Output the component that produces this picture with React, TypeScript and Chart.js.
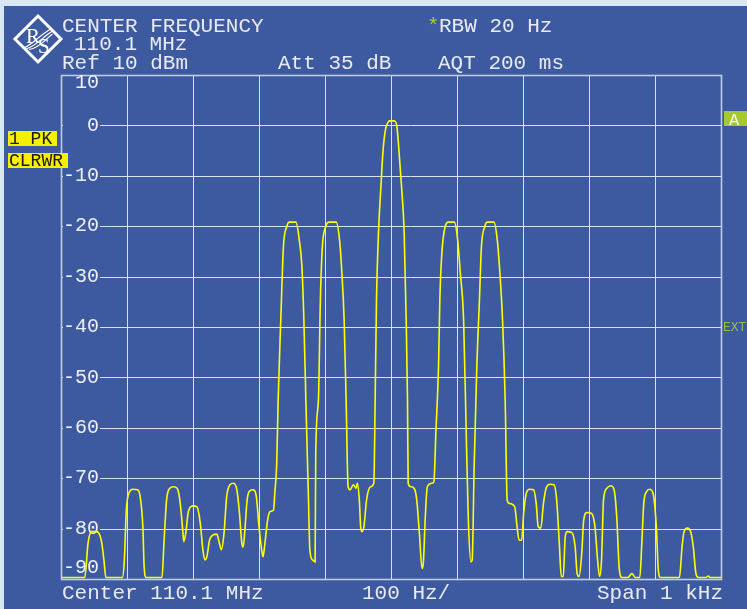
import React, { useEffect, useRef } from "react";
import { Chart, registerables } from "chart.js";

Chart.register(...registerables);

// Frequency offset from the 110.1 MHz centre (Hz) and trace level (dBm)
const freqOffsetHz = [
  -500, -464, -459, -454, -446, -439, -435, -432, -407, -404, -401, -397, -391, -384, -380, -376, -374, -371,
  -347, -344, -340, -335, -330, -324, -320, -316, -314, -311, -307, -300, -294, -289, -285, -282, -279, -275,
  -270, -264, -260, -257, -253, -249, -244, -239, -234, -230, -226, -224, -221, -218, -214, -209, -204, -200,
  -196, -194, -191, -187, -183, -178, -176, -173, -171, -167, -163, -158, -154, -144, -139, -135, -132, -129,
  -125, -123, -119, -115, -114, -110, -107, -104, -99, -94, -83, -78, -75, -71, -68, -65, -62, -57, -53, -51,
  -48, -46, -44, -41, -37, -31, -26, -24, -22, -19, -15, -12, -8, -4, -2, 5, 9, 12, 16, 20, 23, 25, 26, 30,
  35, 39, 43, 47, 49, 52, 55, 62, 65, 68, 72, 74, 77, 82, 87, 96, 101, 105, 110, 114, 117, 121, 123, 126, 130,
  134, 137, 142, 146, 156, 161, 165, 169, 173, 176, 179, 185, 188, 191, 194, 198, 201, 205, 210, 216, 220, 223,
  227, 231, 235, 241, 247, 251, 255, 258, 261, 264, 267, 274, 279, 282, 285, 289, 292, 297, 304, 309, 313, 316,
  319, 322, 327, 333, 338, 342, 346, 350, 359, 365, 370, 377, 380, 383, 387, 392, 397, 402, 405, 408, 437, 441,
  444, 449, 454, 458, 462, 466, 477, 481, 483, 500,
];

const levelDbm = [
  -89.7, -89.7, -82.9, -80.6, -80.6, -82.3, -86.2, -89.7, -89.7, -86.2, -76.3, -72.9, -72.2, -72.3, -73.7, -79.6, -87.6, -89.7,
  -89.7, -82.9, -74.3, -72.0, -71.7, -72.0, -74.3, -79.6, -82.6, -80.9, -76.6, -75.5, -75.7, -78.9, -84.2, -86.2, -85.6, -82.3,
  -81.3, -81.1, -82.9, -84.2, -80.9, -73.7, -71.3, -71.0, -72.0, -76.3, -82.9, -83.7, -79.6, -74.3, -72.5, -72.3, -73.7, -79.6,
  -84.2, -85.6, -82.9, -78.3, -76.6, -76.3, -72.9, -66.4, -54.5, -38.6, -24.1, -20.1, -19.2, -19.2, -22.7, -28.0, -38.6, -54.5,
  -74.3, -84.2, -86.2, -86.6, -65.0, -54.5, -34.6, -24.1, -20.1, -19.2, -19.2, -22.7, -28.0, -38.6, -54.5, -71.7, -72.3, -71.3, -72.0, -71.0,
  -74.3, -79.6, -80.6, -79.6, -74.3, -71.7, -71.0, -54.5, -34.6, -21.4, -11.5, -4.9, -0.6, 0.7, 0.9, 0.9, -0.3, -4.9, -12.2, -21.4, -38.6, -54.5, -71.0, -71.7,
  -72.0, -74.3, -80.9, -87.9, -86.8, -77.6, -71.7, -71.0, -70.7, -61.0, -47.9, -34.6, -25.4, -20.1, -19.2, -19.2, -22.7, -29.3, -38.6, -61.0, -77.6, -86.6, -86.2, -67.7, -47.9,
  -34.6, -24.1, -20.1, -19.2, -19.2, -22.7, -29.3, -38.6, -54.5, -74.3, -75.0, -75.3, -76.0, -79.6, -82.3, -82.3, -77.0, -73.0, -72.2, -72.3, -75.0, -79.6,
  -79.9, -75.0, -72.0, -71.2, -71.3, -74.3, -82.9, -89.5, -89.5, -81.6, -80.6, -80.8, -83.6, -88.9, -89.5, -84.9, -78.3, -76.8, -77.0, -79.6, -86.2, -89.5,
  -86.2, -74.3, -72.0, -71.5, -72.3, -77.6, -88.2, -89.7, -89.7, -88.9, -89.7, -89.7, -82.9, -75.0, -72.7, -72.2, -73.0, -79.6, -88.2, -89.7, -89.7, -83.6,
  -80.6, -79.9, -80.6, -83.6, -88.9, -89.7, -89.7, -89.4, -89.7, -89.7,
];

const yTickValues = [10, 0, -10, -20, -30, -40, -50, -60, -70, -80, -90];
const xDivisionValues = [-400, -300, -200, -100, 0, 100, 200, 300, 400];

const headerLine1 = "CENTER FREQUENCY";
const headerLine2 = "110.1 MHz";
const rbwText = "RBW 20 Hz";
const refText = "Ref 10 dBm";
const attText = "Att 35 dB";
const aqtText = "AQT 200 ms";
const footerLeft = "Center 110.1 MHz";
const footerMid = "100 Hz/";
const footerRight = "Span 1 kHz";

const PANEL = "rgb(61,90,160)";
const MONO = "'Liberation Mono', 'DejaVu Sans Mono', monospace";

const frame = {
  id: "spectrumFrame",
  beforeDraw(chart: any) {
    const ctx = chart.ctx as CanvasRenderingContext2D;
    const { left, right, top, bottom } = chart.chartArea;
    const xs = chart.scales.x;
    const ys = chart.scales.y;
    ctx.save();
    ctx.fillStyle = "#d8e7f6";
    ctx.fillRect(0, 0, chart.width, chart.height);
    ctx.fillStyle = PANEL;
    ctx.fillRect(4, 6, chart.width - 4, chart.height - 6);

    // vertical divisions
    ctx.strokeStyle = "rgba(228,232,248,0.95)";
    ctx.lineWidth = 1;
    for (const v of xDivisionValues) {
      const x = Math.round(xs.getPixelForValue(v)) + 0.5;
      ctx.beginPath();
      ctx.moveTo(x, top);
      ctx.lineTo(x, bottom);
      ctx.stroke();
    }
    // horizontal divisions (interrupted by the level labels)
    for (const v of yTickValues) {
      if (v === 10 || v === -90) continue;
      const y = Math.round(ys.getPixelForValue(v)) + 0.5;
      ctx.beginPath();
      ctx.moveTo(left + 39, y);
      ctx.lineTo(right, y);
      ctx.stroke();
      ctx.beginPath();
      ctx.moveTo(left, y);
      ctx.lineTo(left + 2, y);
      ctx.stroke();
    }
    // frame
    ctx.strokeStyle = "#c2cae8";
    ctx.lineWidth = 1.6;
    ctx.strokeRect(left + 0.5, top + 0.5, right - left, bottom - top);

    // level labels
    ctx.fillStyle = "#eef0f8";
    ctx.font = `20px ${MONO}`;
    ctx.textAlign = "right";
    ctx.textBaseline = "middle";
    for (const v of yTickValues) {
      let y = ys.getPixelForValue(v);
      if (v === 10) y += 8;
      if (v === -90) y -= 11;
      ctx.fillText(String(v), left + 38, y);
    }
    ctx.restore();
  },
  afterDraw(chart: any) {
    const ctx = chart.ctx as CanvasRenderingContext2D;
    ctx.save();
    ctx.textAlign = "left";
    ctx.textBaseline = "alphabetic";
    ctx.fillStyle = "#e8eaf4";
    ctx.font = `21px ${MONO}`;
    ctx.fillText(headerLine1, 62, 32);
    ctx.fillText(headerLine2, 74, 50);
    ctx.fillText(refText, 62, 69);
    ctx.fillText(attText, 278, 69);
    ctx.fillText(aqtText, 438, 69);
    ctx.fillText(rbwText, 439, 32);
    ctx.fillText(footerLeft, 62, 599);
    ctx.fillText(footerMid, 362, 599);
    ctx.fillText(footerRight, 597, 599);
    ctx.fillStyle = "#a8cc3c";
    ctx.fillText("*", 427, 32);

    // trace labels
    ctx.fillStyle = "#f4f000";
    ctx.fillRect(8, 131, 49, 15);
    ctx.fillRect(8, 153, 60, 15);
    ctx.fillStyle = "#1a1a1a";
    ctx.font = `18px ${MONO}`;
    ctx.fillText("1 PK", 9, 144);
    ctx.fillText("CLRWR", 9, 166);

    // A marker and EXT
    ctx.fillStyle = "#a6c832";
    ctx.fillRect(724, 111, 23, 15);
    ctx.fillStyle = "#f4f4f4";
    ctx.font = `17px ${MONO}`;
    ctx.fillText("A", 729, 125);
    ctx.fillStyle = "#9ab84a";
    ctx.font = `13px ${MONO}`;
    ctx.fillText("EXT", 723, 331);

    // R&S logo
    ctx.translate(38, 39);
    ctx.strokeStyle = "#ffffff";
    ctx.lineWidth = 3;
    ctx.beginPath();
    ctx.moveTo(0, -23);
    ctx.lineTo(23, 0);
    ctx.lineTo(0, 23);
    ctx.lineTo(-23, 0);
    ctx.closePath();
    ctx.stroke();
    ctx.fillStyle = "#ffffff";
    ctx.font = "21px 'Liberation Serif', serif";
    ctx.fillText("R", -12, 4);
    ctx.fillText("S", 0, 14);
    ctx.lineWidth = 1.2;
    for (let k = 0; k < 3; k++) {
      const o = k * 2.5;
      ctx.beginPath();
      ctx.moveTo(-14 + o, 9 + o * 0.3);
      ctx.bezierCurveTo(-5 + o, 5 + o, 3 + o, -5 + o, 13 + o * 0.3, -10 + o);
      ctx.stroke();
    }
    ctx.restore();
  },
};

export default function App() {
  const ref = useRef<HTMLCanvasElement>(null);
  useEffect(() => {
    document.body.style.margin = "0";
    const canvas = ref.current!;
    const chart = new Chart(canvas, {
      type: "line",
      data: {
        datasets: [
          {
            data: freqOffsetHz.map((f, i) => ({ x: f, y: levelDbm[i] })),
            borderColor: "#ffff00",
            borderWidth: 1.6,
            pointRadius: 0,
            cubicInterpolationMode: "monotone",
            fill: false,
          },
        ],
      },
      options: {
        animation: false,
        responsive: false,
        events: [],
        layout: { padding: { left: 61, top: 75, right: 26, bottom: 30 } },
        plugins: { legend: { display: false }, tooltip: { enabled: false } },
        scales: {
          x: { type: "linear", display: false, min: -500, max: 500 },
          y: { type: "linear", display: false, min: -90, max: 10 },
        },
      },
      plugins: [frame],
    });
    return () => chart.destroy();
  }, []);
  return (
    <canvas
      ref={ref}
      width={747}
      height={609}
      style={{ display: "block", width: 747, height: 609 }}
    />
  );
}
